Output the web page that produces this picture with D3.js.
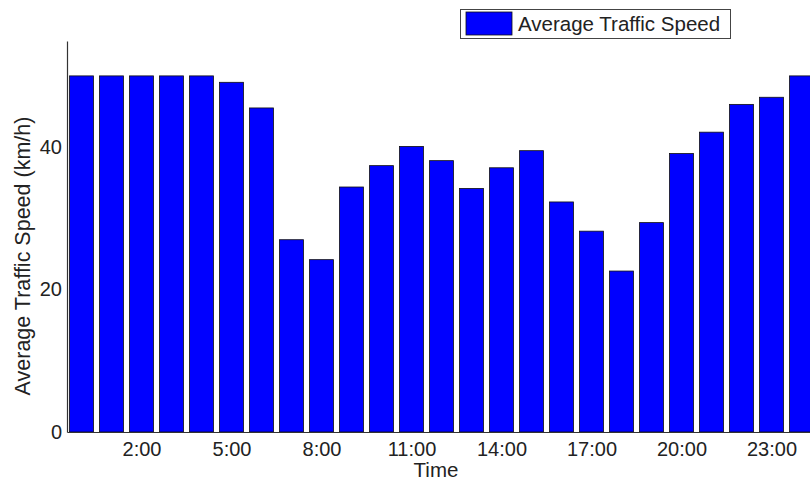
<!DOCTYPE html>
<html><head><meta charset="utf-8">
<script src="https://cdn.jsdelivr.net/npm/d3@7"></script>
<style>body{margin:0;background:#fff;overflow:hidden}text{font-family:"Liberation Sans",Arial,sans-serif;fill:#222}</style>
</head><body>
<svg id="c" width="810" height="482"></svg>
<script>
const hours = d3.range(0, 25);
const speeds = [50,50,50,50,50,49.1,45.5,27.0,24.2,34.4,37.4,40.1,38.1,34.2,37.1,39.5,32.3,28.2,22.6,29.4,39.1,42.1,46.0,47.0,50];
const xTickHours = [2,5,8,11,14,17,20,23];
const xTickLabels = ["2:00","5:00","8:00","11:00","14:00","17:00","20:00","23:00"];
const yTicks = [0,20,40];
const seriesName = "Average Traffic Speed";

(function(){
const svg = d3.select("#c");
const mLeft = 67, mBottom = 432, mTop = 41;
const x = d3.scaleLinear().domain([-0.483, 24.283]).range([mLeft, 810]);
const y = d3.scaleLinear().domain([0, 54.9]).range([mBottom, mTop]);
const bw = (x(1) - x(0)) * 0.8;

svg.append("g").selectAll("rect").data(hours).join("rect")
  .attr("x", d => x(d) - bw/2).attr("width", bw)
  .attr("y", (d,i) => y(speeds[i])).attr("height", (d,i) => y(0) - y(speeds[i]))
  .attr("fill", "#0000ff").attr("stroke", "#111").attr("stroke-width", 0.8);

const xa = svg.append("g").attr("transform", `translate(0,${mBottom})`)
  .call(d3.axisBottom(x).tickValues(xTickHours).tickFormat((d,i) => xTickLabels[i]).tickSize(0).tickPadding(10));
xa.select(".domain").attr("stroke", "#333").attr("stroke-width", 1.2);
xa.selectAll("text").attr("font-size", 20).attr("fill", "#222");

const ya = svg.append("g").attr("transform", `translate(${mLeft},0)`)
  .call(d3.axisLeft(y).tickValues(yTicks).tickSize(0).tickPadding(5));
ya.select(".domain").attr("stroke", "#333").attr("stroke-width", 1.2);
ya.selectAll("text").attr("font-size", 20).attr("fill", "#222");

svg.append("text").attr("x", 436).attr("y", 477).attr("text-anchor", "middle").attr("font-size", 20.5).text("Time");
svg.append("text").attr("transform", "translate(30,256) rotate(-90)").attr("text-anchor", "middle")
  .attr("font-size", 21.5).text("Average Traffic Speed (km/h)");

const lg = svg.append("g");
lg.append("rect").attr("x", 460.5).attr("y", 9.5).attr("width", 270).attr("height", 29).attr("fill", "#fff").attr("stroke", "#444");
lg.append("rect").attr("x", 466).attr("y", 12).attr("width", 46).attr("height", 23).attr("fill", "#0000ff").attr("stroke", "#111").attr("stroke-width", 0.8);
lg.append("text").attr("x", 518).attr("y", 31).attr("font-size", 20.5).text(seriesName);
})();
</script>
</body></html>
